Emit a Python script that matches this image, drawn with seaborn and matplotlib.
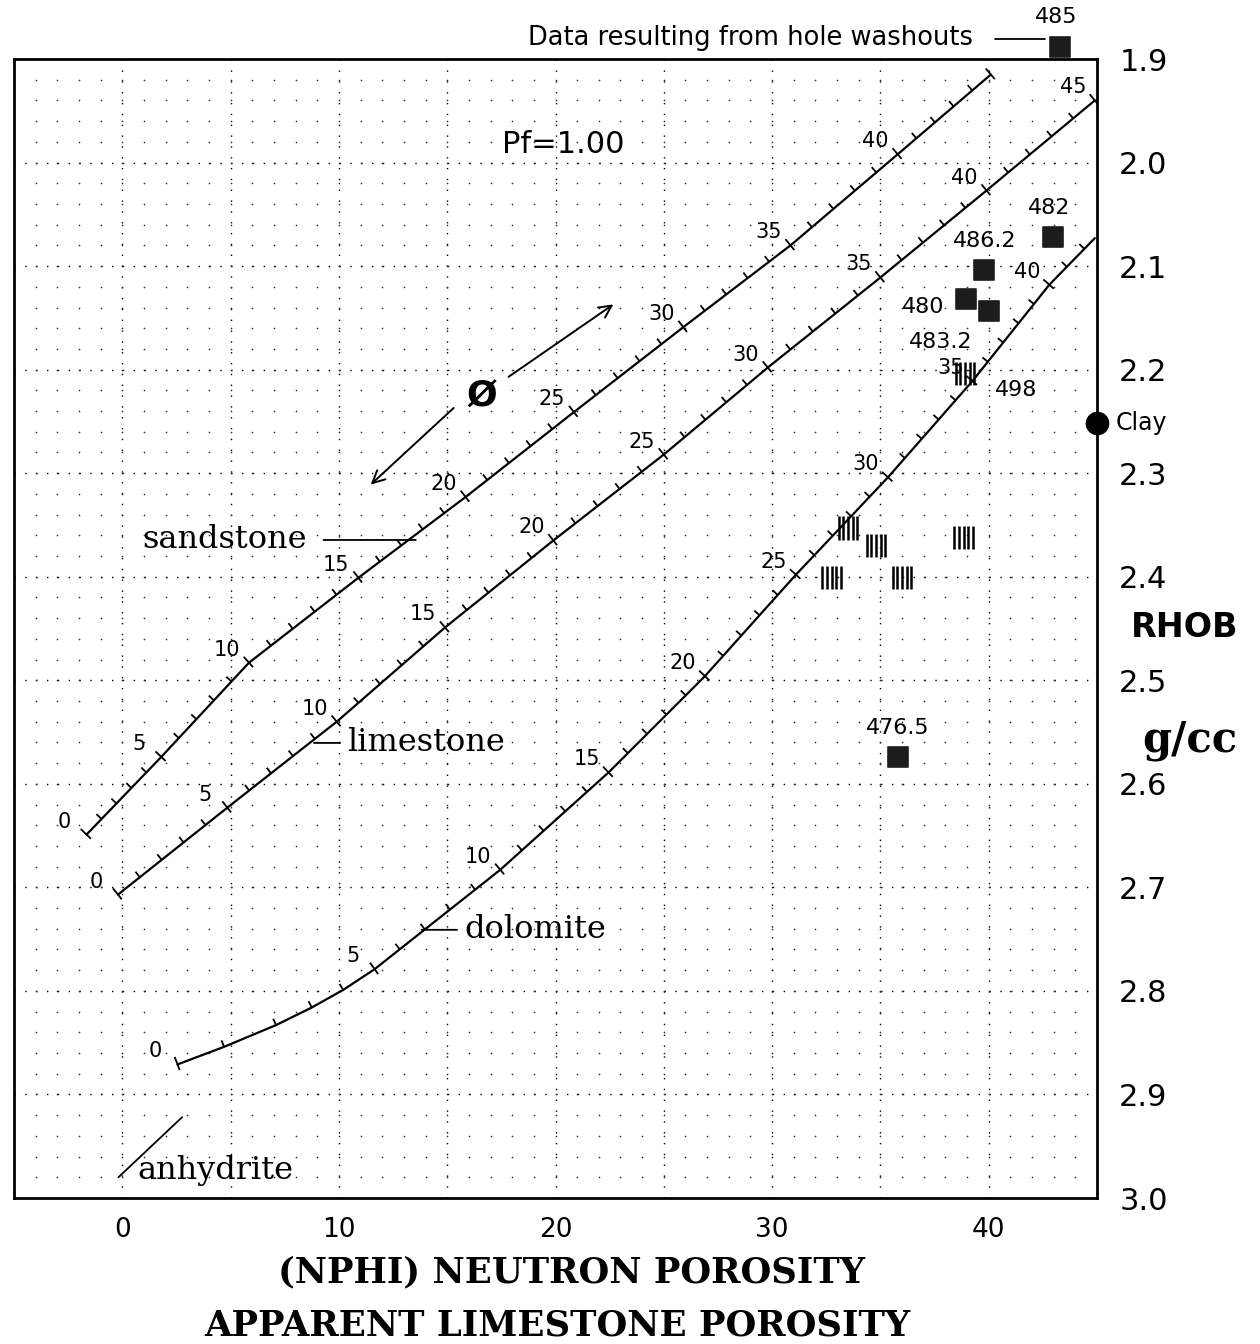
import matplotlib
matplotlib.use('Agg')
import matplotlib.pyplot as plt
from matplotlib.path import Path
from matplotlib.collections import LineCollection
import seaborn as sns
import numpy as np
import pandas as pd

sns.set_style('white')
plt.rcParams['font.family'] = ['DejaVu Sans']
plt.rcParams['patch.edgecolor'] = 'k'

# lithology lines: true porosity (p.u.) -> apparent limestone NPHI, RHOB (g/cc)
sand_phi = [0, 5, 10, 15, 20, 25, 30, 35, 40, 45]
sand_nphi = [-1.65, 1.8, 5.85, 10.9, 15.85, 20.85, 25.9, 30.85, 35.8, 40.1]
sand_rhob = [2.649, 2.574, 2.483, 2.401, 2.323, 2.241, 2.159, 2.080, 1.992, 1.915]
sand_labels = [0, 5, 10, 15, 20, 25, 30, 35, 40]

lime_phi = [0, 5, 10, 15, 20, 25, 30, 35, 40, 45]
lime_nphi = [-0.2, 4.85, 9.9, 14.9, 19.9, 25.0, 29.8, 35.0, 39.9, 44.9]
lime_rhob = [2.707, 2.623, 2.540, 2.449, 2.365, 2.282, 2.198, 2.111, 2.027, 1.940]
lime_labels = [0, 5, 10, 15, 20, 25, 30, 35, 40, 45]

dolo_phi = [0, 1, 2, 3, 4, 5, 10, 15, 20, 25, 30, 35, 40, 42.6]
dolo_nphi = [2.55, 4.7, 7.1, 8.75, 10.2, 11.65, 17.45, 22.45, 26.9, 31.1, 35.35, 39.25, 42.8, 44.9]
dolo_rhob = [2.871, 2.854, 2.833, 2.816, 2.799, 2.779, 2.683, 2.589, 2.496, 2.398, 2.304, 2.211, 2.118, 2.073]
dolo_labels = [0, 5, 10, 15, 20, 25, 30, 35, 40]

# log samples (squares)
samp_name = ['485', '482', '486.2', '480', '483.2', '476.5']
samp_nphi = [43.3, 42.95, 39.8, 38.95, 40.0, 35.8]
samp_rhob = [1.888, 2.072, 2.104, 2.132, 2.143, 2.574]
samp_off = [(-4, 30), (-3, 29), (0, 29), (-43, -8), (-48, -31), (0, 29)]

# hatched data groups
hatch_nphi = [38.9, 33.5, 34.8, 38.85, 32.75, 36.0]
hatch_rhob = [2.204, 2.353, 2.370, 2.362, 2.401, 2.401]

W, H = 1260, 1344
fig = plt.figure(figsize=(W / 100, H / 100), dpi=100)
ax_l, ax_r, ax_t, ax_b = 14, 1097, 59, 1198
ax = fig.add_axes([ax_l / W, 1 - ax_b / H, (ax_r - ax_l) / W, (ax_b - ax_t) / H])
ax.set_xlim(-5, 45)
ax.set_ylim(3.0, 1.9)
sx = (ax_r - ax_l) / 50.0
sy = (ax_b - ax_t) / 1.1

# dotted grid
for gx in range(0, 45, 5):
    ax.axvline(gx, color='k', lw=1.0, ls=(0, (1, 6.8)), zorder=1)
for gy in np.arange(2.0, 2.95, 0.1):
    ax.axhline(gy, color='k', lw=1.0, ls=(0, (1, 6.8)), zorder=1)
gxx, gyy = np.meshgrid(np.arange(-4, 45, 1), np.arange(1.92, 2.99, 0.02))
ax.scatter(gxx.ravel(), gyy.ravel(), s=1.5, color='#333333', lw=0, zorder=1)

# lithology curves
df = pd.concat([
    pd.DataFrame({'lith': 'sandstone', 'nphi': sand_nphi, 'rhob': sand_rhob}),
    pd.DataFrame({'lith': 'limestone', 'nphi': lime_nphi, 'rhob': lime_rhob}),
    pd.DataFrame({'lith': 'dolomite', 'nphi': dolo_nphi, 'rhob': dolo_rhob}),
])
sns.lineplot(data=df, x='nphi', y='rhob', hue='lith', sort=False, estimator=None,
             palette={'sandstone': 'k', 'limestone': 'k', 'dolomite': 'k'},
             lw=1.6, legend=False, ax=ax, zorder=3)


def curve_ticks(phi, nphi, rhob):
    segs = []
    for p in range(int(phi[0]), int(phi[-1]) + 1):
        x0 = np.interp(p, phi, nphi)
        y0 = np.interp(p, phi, rhob)
        a, b = max(p - 0.5, phi[0]), min(p + 0.5, phi[-1])
        tx = (np.interp(b, phi, nphi) - np.interp(a, phi, nphi)) * sx
        ty = -(np.interp(b, phi, rhob) - np.interp(a, phi, rhob)) * sy
        n = np.hypot(tx, ty)
        nx, ny = -ty / n, tx / n
        lo, hi = (-6, 8) if p % 5 == 0 else (0, 7)
        segs.append([(x0 + nx * lo / sx, y0 - ny * lo / sy),
                     (x0 + nx * hi / sx, y0 - ny * hi / sy)])
    return segs


for phi, nphi, rhob, labs in [(sand_phi, sand_nphi, sand_rhob, sand_labels),
                              (lime_phi, lime_nphi, lime_rhob, lime_labels),
                              (dolo_phi, dolo_nphi, dolo_rhob, dolo_labels)]:
    ax.add_collection(LineCollection(curve_ticks(phi, nphi, rhob), colors='k',
                                     lw=1.3, zorder=3))
    for p in labs:
        ax.annotate(str(p), (np.interp(p, phi, nphi), np.interp(p, phi, rhob)),
                    xytext=(-22, 13), textcoords='offset pixels',
                    ha='center', va='center', fontsize=15, color='k')

# lithology names with leaders
serif = 'DejaVu Serif'
lead = dict(arrowstyle='-', lw=1.3, color='k', shrinkB=0)
ax.annotate('sandstone', xy=(13.55, 2.3645), xytext=(8.5, 2.3645), ha='right',
            va='center', fontsize=23, family=serif, color='k',
            arrowprops=dict(lead, shrinkA=10))
ax.annotate('limestone', xy=(8.85, 2.5605), xytext=(10.4, 2.5605), ha='left',
            va='center', fontsize=23, family=serif, color='k',
            arrowprops=dict(lead, shrinkA=3))
ax.annotate('dolomite', xy=(13.82, 2.741), xytext=(15.8, 2.741), ha='left',
            va='center', fontsize=23, family=serif, color='k',
            arrowprops=dict(lead, shrinkA=3))
ax.plot([-0.18, 2.76], [2.980, 2.922], color='k', lw=1.3)
ax.text(0.7, 2.973, 'anhydrite', ha='left', va='center', fontsize=23, family=serif,
        color='k')

ax.text(20.37, 1.983, 'Pf=1.00', ha='center', va='center', fontsize=22, color='k')

# porosity arrows
ax.text(16.59, 2.2264, 'Ø', ha='center', va='center', fontsize=26, fontweight='bold',
        color='k')
arr = dict(arrowstyle='->', lw=1.4, color='k', mutation_scale=22, shrinkA=0, shrinkB=0)
ax.annotate('', xy=(22.67, 2.137), xytext=(17.83, 2.207), arrowprops=arr)
ax.annotate('', xy=(11.47, 2.311), xytext=(15.3, 2.237), arrowprops=arr)

# samples
sq = pd.DataFrame({'nphi': samp_nphi, 'rhob': samp_rhob})
sns.scatterplot(data=sq, x='nphi', y='rhob', marker='s', s=220, color='#1c1c1c',
                edgecolor='#1c1c1c', ax=ax, zorder=5)
ax.collections[-1].set_clip_on(False)
for name, x, y, off in zip(samp_name, samp_nphi, samp_rhob, samp_off):
    ax.annotate(name, (x, y), xytext=off, textcoords='offset pixels', color='k',
                ha='center', va='center', fontsize=16, annotation_clip=False)

hatch = Path([(-0.4, -0.5), (-0.4, 0.5), (-0.2, -0.5), (-0.2, 0.5), (0, -0.5), (0, 0.5),
              (0.2, -0.5), (0.2, 0.5), (0.4, -0.5), (0.4, 0.5)],
             [Path.MOVETO, Path.LINETO] * 5)
hd = pd.DataFrame({'nphi': hatch_nphi, 'rhob': hatch_rhob})
sns.scatterplot(data=hd, x='nphi', y='rhob', marker=hatch, s=280, facecolor='none',
                edgecolor='k', linewidth=1.8, ax=ax, zorder=5)
ax.annotate('498', (38.9, 2.204), xytext=(51, -16), textcoords='offset pixels',
            ha='center', va='center', fontsize=16, color='k')

# washout note
ax.text(39.26, 1.8797, 'Data resulting from hole washouts', ha='right', va='center',
        fontsize=18.5, color='k')
ax.plot([40.28, 42.58], [1.8807, 1.8807], color='k', lw=1.3, clip_on=False)

# clay point
ax.plot([45], [2.2515], 'o', ms=16, color='k', clip_on=False, zorder=6)
ax.text(45.85, 2.2515, 'Clay', ha='left', va='center', fontsize=17, color='k')

# axes
ax.set_xticks([0, 10, 20, 30, 40])
ax.set_xticklabels(['0', '10', '20', '30', '40'], fontsize=19, color='k')
ax.set_yticks(np.round(np.arange(1.9, 3.01, 0.1), 1))
ax.set_yticklabels([f'{v:.1f}' for v in np.arange(1.9, 3.01, 0.1)], fontsize=22, color='k')
ax.yaxis.tick_right()
ax.tick_params(axis='both', length=0)
ax.tick_params(axis='x', pad=14)
ax.tick_params(axis='y', pad=16)
ax.set_xlabel('')
ax.set_ylabel('')
for s in ax.spines.values():
    s.set_color('k')
    s.set_linewidth(2)
    s.set_visible(True)

fig.text(1185 / W, 1 - 627 / H, 'RHOB', ha='center', va='center', fontsize=24,
         fontweight='bold', color='k')
fig.text(1190 / W, 1 - 740 / H, 'g/cc', ha='center', va='center', fontsize=30,
         fontweight='bold', family=serif, color='k')
fig.text(572 / W, 1 - 1272 / H, '(NPHI) NEUTRON POROSITY', ha='center', va='center',
         fontsize=25.5, fontweight='bold', family=serif, color='k')
fig.text(557 / W, 1 - 1325 / H, 'APPARENT LIMESTONE POROSITY', ha='center', va='center',
         fontsize=25.5, fontweight='bold', family=serif, color='k')

fig.savefig('out.png', dpi=100, facecolor='white')
